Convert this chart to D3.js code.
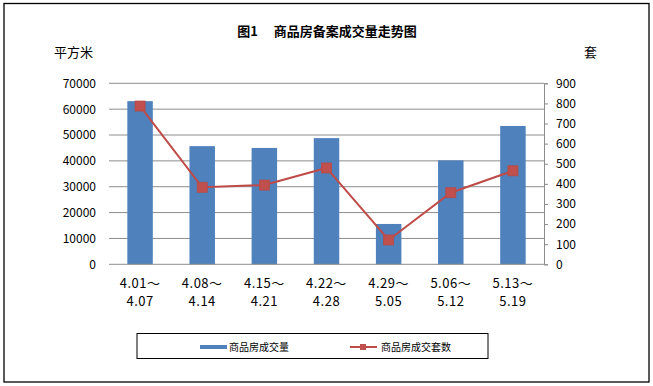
<!DOCTYPE html>
<html><head><meta charset="utf-8">
<script src="https://cdn.jsdelivr.net/npm/d3@7"></script>
<style>
html,body{margin:0;padding:0;background:#fff;}
svg{display:block;}
text{font-family:"Noto Sans CJK SC","DejaVu Sans",sans-serif;}
</style></head>
<body>
<svg id="c" width="653" height="386"></svg>
<script>
const categoriesTop = ["4.01～","4.08～","4.15～","4.22～","4.29～","5.06～","5.13～"];
const categoriesBottom = ["4.07","4.14","4.21","4.28","5.05","5.12","5.19"];
const areaValues = [63100, 45700, 45000, 48800, 15600, 40200, 53500];
const unitValues = [787, 383, 394, 479, 121, 356, 465];
const leftTicks = [0,10000,20000,30000,40000,50000,60000,70000];
const rightTicks = [0,100,200,300,400,500,600,700,800,900];
const seriesNames = ["商品房成交量","商品房成交套数"];

const svg = d3.select("#c");
const L = 109, R = 544, T = 83.3, B = 264.3;

svg.append("rect").attr("x",4).attr("y",3.5).attr("width",645).attr("height",378.5)
  .attr("fill","none").attr("stroke","#000").attr("stroke-width",1.3);

const x = d3.scaleBand().domain(d3.range(categoriesTop.length)).range([L,R]).paddingInner(0.59).paddingOuter(0.295);
const yL = d3.scaleLinear().domain([0,70000]).range([B,T]);
const yR = d3.scaleLinear().domain([0,900]).range([B,T]);

// gridlines
svg.append("g").selectAll("line").data(leftTicks.slice(1)).join("line")
  .attr("x1",L).attr("x2",R).attr("y1",d=>yL(d)).attr("y2",d=>yL(d))
  .attr("stroke","#8c8c8c").attr("stroke-width",1);

// left axis labels
const gl = svg.append("g").attr("transform",`translate(${L},0)`)
  .call(d3.axisLeft(yL).tickValues(leftTicks).tickSize(0).tickPadding(13).tickFormat(d3.format("d")));
gl.select(".domain").remove();
gl.selectAll("text").attr("font-family","'Liberation Sans',sans-serif").attr("font-size",12).attr("fill","#000");

// bars
svg.append("g").selectAll("rect").data(areaValues).join("rect")
  .attr("x",(d,i)=>x(i)).attr("width",x.bandwidth())
  .attr("y",d=>yL(d)).attr("height",d=>B-yL(d)).attr("fill","#4f81bd");

// bottom axis
svg.append("line").attr("x1",L).attr("x2",R).attr("y1",B).attr("y2",B).attr("stroke","#8c8c8c");

// right axis
const gr = svg.append("g").attr("transform",`translate(${R},0)`)
  .call(d3.axisRight(yR).tickValues(rightTicks).tickSize(4).tickPadding(8).tickFormat(d3.format("d")));
gr.select(".domain").attr("stroke","#8c8c8c");
gr.selectAll(".tick line").attr("stroke","#8c8c8c");
gr.selectAll("text").attr("font-family","'Liberation Sans',sans-serif").attr("font-size",12).attr("fill","#000");

// line
const cx = i => x(i) + x.bandwidth()/2;
svg.append("path").datum(unitValues)
  .attr("d", d3.line().x((d,i)=>cx(i)).y(d=>yR(d)))
  .attr("fill","none").attr("stroke","#be4b48").attr("stroke-width",2);
svg.append("g").selectAll("rect").data(unitValues).join("rect")
  .attr("x",(d,i)=>cx(i)-5).attr("y",d=>yR(d)-5).attr("width",10).attr("height",10)
  .attr("fill","#c0504d").attr("stroke","#b84a47").attr("stroke-width",0.8);

// x labels
const xl = svg.append("g");
xl.selectAll("text.t").data(categoriesTop).join("text").attr("class","t")
  .attr("x",(d,i)=>cx(i)).attr("y",288).attr("text-anchor","middle")
  .attr("font-family","'Liberation Mono',monospace").attr("font-size",13).attr("letter-spacing",0.5).text(d=>d);
xl.selectAll("text.b").data(categoriesBottom).join("text").attr("class","b")
  .attr("x",(d,i)=>cx(i)).attr("y",306).attr("text-anchor","middle")
  .attr("font-family","'Liberation Mono',monospace").attr("font-size",13).attr("letter-spacing",0.5).text(d=>d);

// titles
svg.append("text").attr("x",327).attr("y",36).attr("text-anchor","middle")
  .attr("font-size",13).attr("font-weight","bold").attr("xml:space","preserve").text("图1　 商品房备案成交量走势图");
svg.append("text").attr("x",54).attr("y",57).attr("font-size",13).text("平方米");
svg.append("text").attr("x",584).attr("y",57).attr("font-size",13).text("套");

// legend
svg.append("rect").attr("x",137).attr("y",333.5).attr("width",351).attr("height",25)
  .attr("fill","#fff").attr("stroke","#000").attr("stroke-width",1);
svg.append("line").attr("x1",200).attr("x2",227).attr("y1",347).attr("y2",347).attr("stroke","#4f81bd").attr("stroke-width",4);
svg.append("text").attr("x",229).attr("y",351).attr("font-size",10).text(seriesNames[0]);
svg.append("line").attr("x1",350).attr("x2",377).attr("y1",347).attr("y2",347).attr("stroke","#be4b48").attr("stroke-width",2);
svg.append("rect").attr("x",360).attr("y",344).attr("width",6).attr("height",6).attr("fill","#c0504d");
svg.append("text").attr("x",381).attr("y",351).attr("font-size",10).text(seriesNames[1]);
</script>
</body></html>
